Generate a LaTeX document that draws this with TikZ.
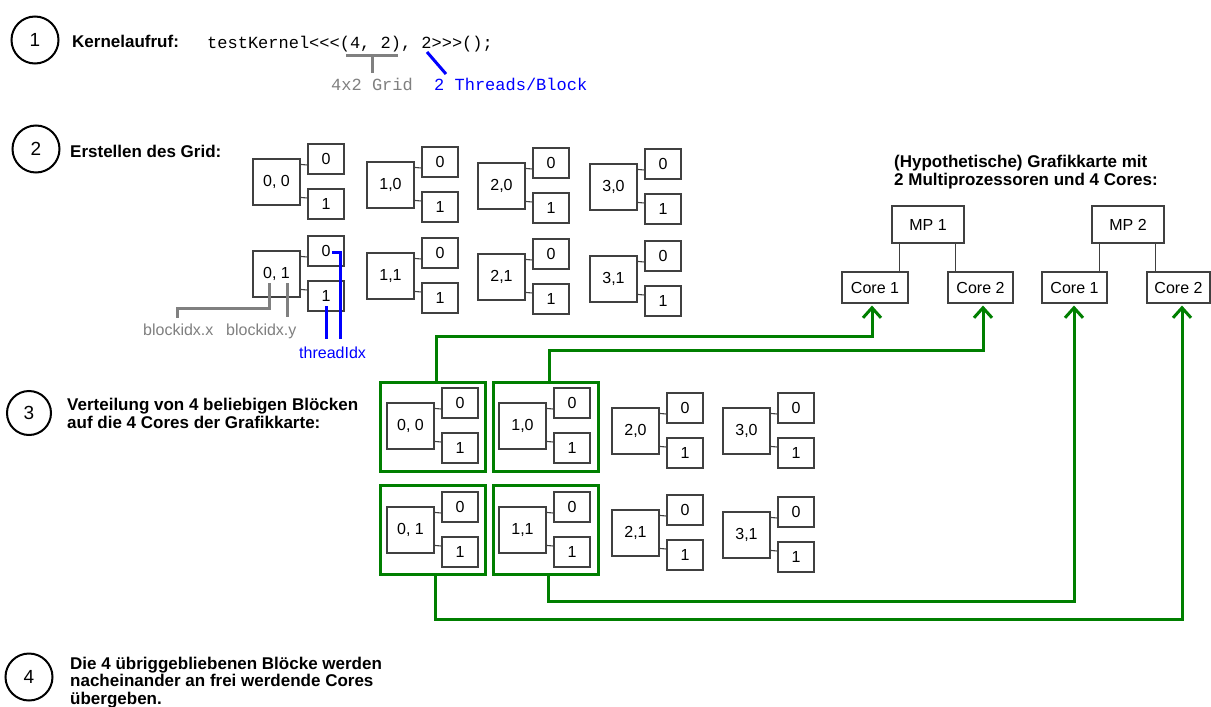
\documentclass[tikz,border=0pt]{standalone}
\usepackage{fontspec}
\setmainfont{Liberation Sans}
\setmonofont{Liberation Mono}
\usetikzlibrary{arrows.meta,calc}
\definecolor{gline}{HTML}{007F00}
\definecolor{glab}{HTML}{808080}
\definecolor{blab}{HTML}{0000FF}
\definecolor{boxc}{HTML}{404040}
\newcommand\blk[4]{%
  \node[bbox] (#1) at (#2+23.5,#3+23) {#4};
  \node[tbox] (#1t0) at (#2+73,#3) {0};
  \node[tbox] (#1t1) at (#2+73,#3+45) {1};
  \draw[boxline] ($(#1.north east)+(0,6)$) -- ($(#1t0.west)+(0,6)$);
  \draw[boxline] ($(#1.north east)+(0,39)$) -- ($(#1t1.west)+(0,-6)$);
}
\begin{document}
\begin{tikzpicture}[x=1pt,y=-1pt,
  hd/.style={font=\fontsize{17}{17.5}\selectfont\bfseries, inner sep=0pt, anchor=base west, align=left},
  code/.style={font=\fontsize{17}{17}\selectfont\ttfamily, inner sep=0pt, anchor=base west},
  lab/.style={font=\fontsize{16}{16}\selectfont, inner sep=0pt, anchor=base west},
  numc/.style={circle, draw=black, line width=2pt, minimum size=47pt, inner sep=0pt, font=\fontsize{19}{19}\selectfont},
  boxline/.style={draw=boxc, line width=1.1pt},
  bbox/.style={boxline, minimum width=47pt, minimum height=46pt, inner sep=0pt, font=\fontsize{16}{16}\selectfont},
  tbox/.style={boxline, minimum width=36pt, minimum height=30pt, inner sep=0pt, font=\fontsize{16}{16}\selectfont},
  hwbox/.style={boxline, minimum height=31pt, inner sep=0pt, font=\fontsize{16}{16}\selectfont},
  gbox/.style={draw=gline, line width=3pt, minimum width=105pt, minimum height=89pt, inner sep=0pt},
  garrow/.style={draw=gline, line width=3pt, -{Straight Barb[length=10pt,width=18pt]}},
  gray line/.style={draw=glab, line width=3pt},
  blue line/.style={draw=blab, line width=3pt},
]
\useasboundingbox[fill=white] (0,0) rectangle (1211,707);

% ---- Section 1
\node[numc] (s1) at (35,40) {1};
\node[hd] (t1) at (72,47) {Kernelaufruf:};
\node[code] (call) at (207,48) {testKernel<<<(4, 2), 2>>>();};
\node[code, text=glab] (lgrid) at (331,90) {4x2 Grid};
\node[code, text=blab] (lthr) at (434,90) {2 Threads/Block};
\coordinate (brl) at (346,55);
\coordinate (brr) at (398,55);
\coordinate (brm) at (372,55);
\coordinate (brs) at (372,73);
\draw[gray line] (brl) -- (brr) (brm) -- (brs);
\coordinate (bla) at (427,52);
\coordinate (blb) at (446,74);
\draw[blue line] (bla) -- (blb);

% ---- Section 2
\node[numc] (s2) at (36,149) {2};
\node[hd] (t2) at (70,157) {Erstellen des Grid:};
\blk{a00}{253}{159}{0, 0}
\blk{a10}{367}{162}{1,0}
\blk{a20}{478}{163}{2,0}
\blk{a30}{590}{164}{3,0}
\blk{a01}{253}{251}{0, 1}
\blk{a11}{367}{253}{1,1}
\blk{a21}{478}{254}{2,1}
\blk{a31}{590}{256}{3,1}

\node[lab, text=glab] (lbx) at (143,335) {blockidx.x};
\node[lab, text=glab] (lby) at (226,335) {blockidx.y};
\node[lab, text=blab] (ltid) at (299,358) {threadIdx};
\draw[gray line] (269,283) -- (269,308) -- (177,308) -- (177,318);
\draw[gray line] (287,283) -- (287,317);
\draw[blue line] (332,252) -- (340,252) -- (340,339);
\draw[blue line] (326,306) -- (326,339);

% ---- Graphics card
\node[hd] (tgpu) at (894,185) {(Hypothetische) Grafikkarte mit\\2 Multiprozessoren und 4 Cores:};
\node[hwbox, minimum width=72pt, minimum height=37pt] (mp1) at (928,224.5) {MP 1};
\node[hwbox, minimum width=72pt, minimum height=37pt] (mp2) at (1128,224.5) {MP 2};
\node[hwbox, minimum width=66pt] (c11) at (875,287.5) {Core 1};
\node[hwbox, minimum width=65pt] (c12) at (980.5,287.5) {Core 2};
\node[hwbox, minimum width=65pt] (c21) at (1074.5,287.5) {Core 1};
\node[hwbox, minimum width=63pt] (c22) at (1178.5,287.5) {Core 2};
\draw[boxline] ($(mp1.south west)+(8,0)$) -- ($(mp1.south west)+(8,29)$);
\draw[boxline] ($(mp1.south east)+(-9,0)$) -- ($(mp1.south east)+(-9,29)$);
\draw[boxline] ($(mp2.south west)+(8,0)$) -- ($(mp2.south west)+(8,29)$);
\draw[boxline] ($(mp2.south east)+(-9,0)$) -- ($(mp2.south east)+(-9,29)$);

% ---- Section 3
\node[numc, minimum size=44pt] (s3) at (29,413) {3};
\node[hd] (t3) at (67,428) {Verteilung von 4 beliebigen Blöcken\\auf die 4 Cores der Grafikkarte:};
\blk{b00}{387}{403}{0, 0}
\blk{b10}{499}{403}{1,0}
\blk{b20}{612}{408}{2,0}
\blk{b30}{723}{408}{3,0}
\blk{b01}{387}{507}{0, 1}
\blk{b11}{499}{507}{1,1}
\blk{b21}{612}{510}{2,1}
\blk{b31}{723}{512}{3,1}
\node[gbox] (g00) at (432.5,426.5) {};
\node[gbox] (g10) at (545.5,426.5) {};
\node[gbox] (g01) at (432.5,529.5) {};
\node[gbox] (g11) at (545.5,529.5) {};

\draw[garrow] ($(g00.north)+(3.5,0)$) -- ++(0,-44) -| ($(c11.south)+(-3,2)$);
\draw[garrow] ($(g10.north)+(3.5,0)$) -- ++(0,-30) -| ($(c12.south)+(2.5,2)$);
\draw[garrow] ($(g11.south)+(2.5,0)$) -- ++(0,26) -| ($(c21.south)+(-0.5,2)$);
\draw[garrow] ($(g01.south)+(2.5,0)$) -- ++(0,44) -| ($(c22.south)+(3.5,2)$);

% ---- Section 4
\node[numc] (s4) at (29,677) {4};
\node[hd] (t4) at (70,704) {Die 4 übriggebliebenen Blöcke werden\\nacheinander an frei werdende Cores\\übergeben.};
\end{tikzpicture}
\end{document}
